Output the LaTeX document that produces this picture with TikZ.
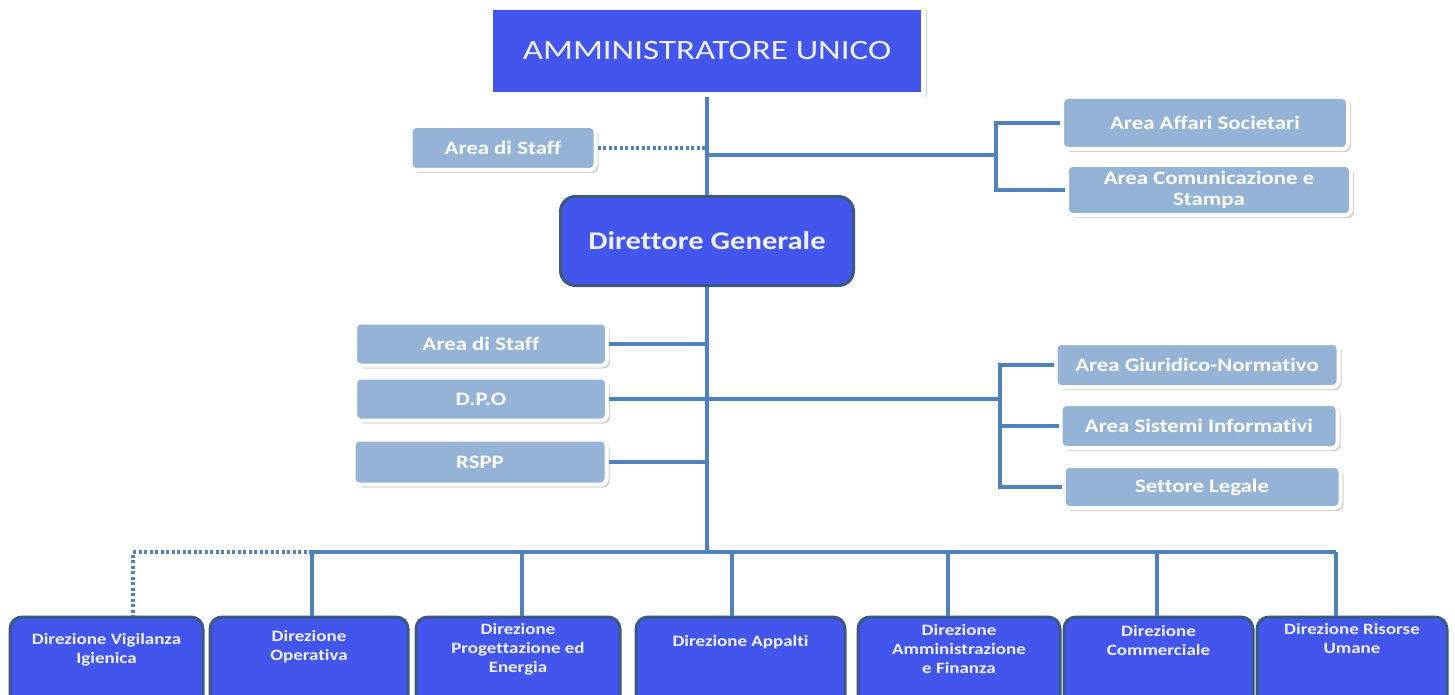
\documentclass[tikz,border=0pt]{standalone}
\usepackage{fontspec}
\setmainfont{Carlito}[FakeStretch=1.2,Ligatures=NoCommon]
\newfontfamily\aufont{Carlito}[FakeStretch=1.25,Ligatures=NoCommon]
\usetikzlibrary{shadows}
\definecolor{dblue}{RGB}{66,85,236}
\definecolor{dborder}{RGB}{58,88,130}
\definecolor{lblue}{RGB}{149,179,215}
\definecolor{conncol}{RGB}{79,129,189}
\definecolor{txt}{RGB}{238,240,246}
\begin{document}
\begin{tikzpicture}[x=1pt,y=-1pt,
  shd/.style={drop shadow={opacity=0.35,shadow xshift=3pt,shadow yshift=-3pt}},
  lbox/.style={shd,draw=white,line width=4pt,fill=lblue,rounded corners=6pt,
    text=white,font=\bfseries\fontsize{19}{21}\selectfont,align=center,inner sep=0pt},
  topbox/.style={shd,draw=white,line width=5pt,fill=dblue,inner sep=0pt,
    text=txt,font=\aufont\fontsize{28}{32}\selectfont},
  dgbox/.style={draw=dborder,line width=3pt,fill=dblue,rounded corners=15pt,inner sep=0pt,
    text=txt,font=\bfseries\fontsize{25.5}{28}\selectfont},
  dirbox/.style={draw=dborder,line width=3pt,fill=dblue,rounded corners=12pt,inner sep=0pt},
  dirtext/.style={text=txt,font=\bfseries\fontsize{15.8}{19}\selectfont,align=center,inner sep=0pt},
  conn/.style={draw=conncol,line width=4pt},
  dconn/.style={draw=conncol,line width=4pt,dash pattern=on 3pt off 2.5pt}
]
\useasboundingbox (0,0) rectangle (1455,695);
\clip (0,0) rectangle (1455,695);
\fill[white] (0,0) rectangle (1455,695);

% top
\node[topbox,minimum width=433,minimum height=87] (au) at (707,51) {AMMINISTRATORE UNICO};
\node[dgbox,minimum width=293,minimum height=89] (dg) at (707,241) {Direttore Generale};
\node[lbox,minimum width=185,minimum height=44] (as1) at (503,148) {Area di Staff};
\node[lbox,minimum width=286,minimum height=52] (aas) at (1205,123) {Area Affari Societari};
\node[lbox,minimum width=284,minimum height=50] (acs) at (1209,190) {Area Comunicazione e\\Stampa};

% middle
\node[lbox,minimum width=252,minimum height=43] (as2) at (481,344) {Area di Staff};
\node[lbox,minimum width=252,minimum height=43] (dpo) at (481,399) {D.P.O};
\node[lbox,minimum width=253,minimum height=45] (rspp) at (480,462) {RSPP};
\node[lbox,minimum width=283,minimum height=44] (agn) at (1197,365) {Area Giuridico-Normativo};
\node[lbox,minimum width=277,minimum height=44] (asi) at (1199,426) {Area Sistemi Informativi};
\node[lbox,minimum width=277,minimum height=42] (sl) at (1202,487) {Settore Legale};

% bottom boxes
\node[dirbox,minimum width=193,minimum height=104] (d1) at (106.5,669) {};
\node[dirbox,minimum width=198,minimum height=104] (d2) at (309,669) {};
\node[dirbox,minimum width=204,minimum height=104] (d3) at (518,669) {};
\node[dirbox,minimum width=209,minimum height=104] (d4) at (740.5,669) {};
\node[dirbox,minimum width=202,minimum height=104] (d5) at (959,669) {};
\node[dirbox,minimum width=189,minimum height=104] (d6) at (1158.5,669) {};
\node[dirbox,minimum width=190,minimum height=104] (d7) at (1352,669) {};
\node[dirtext] (t1) at (106.5,650) {Direzione Vigilanza\\Igienica};
\node[dirtext] (t2) at (309,647) {Direzione\\Operativa};
\node[dirtext] (t3) at (518,649) {Direzione\\Progettazione ed\\Energia};
\node[dirtext] (t4) at (740.5,642) {Direzione Appalti};
\node[dirtext] (t5) at (959,649) {Direzione\\Amministrazione\\e Finanza};
\node[dirtext] (t6) at (1158.5,641) {Direzione\\Commerciale};
\node[dirtext] (t7) at (1352,639) {Direzione Risorse\\Umane};

% junction coordinates
\coordinate (j1) at (707,155);
\coordinate (b1) at (996,155);
\coordinate (b2) at (1000,399);
\coordinate (bus) at (707,552);
\coordinate (bl) at (312,552);
\coordinate (bd) at (133,552);
\coordinate (s3) at (522,552);
\coordinate (s4) at (732,552);
\coordinate (s5) at (948,552);
\coordinate (s6) at (1157,552);
\coordinate (s7) at (1336,552);

% connectors top
\draw[conn] (au.south) -- (dg.north);
\draw[dconn] (as1.east) -- (as1.east -| j1);
\draw[conn] (j1) -- (b1);
\draw[conn] (aas.west) -| (b1) |- (acs.west);

% connectors middle
\draw[conn] (dg.south) -- (bus);
\draw[conn] (as2.east) -- (as2.east -| bus);
\draw[conn] (dpo.east) -- (b2);
\draw[conn] (rspp.east) -- (rspp.east -| bus);
\draw[conn] (agn.west) -| (b2) |- (sl.west);
\draw[conn] (asi.west) -- (asi.west -| b2);

% connectors bottom
\draw[conn] (bl) -- (s7);
\draw[dconn] (bl) -- (bd) -- (bd |- d1.north);
\draw[conn] (bl) -- (bl |- d2.north);
\draw[conn] (s3) -- (s3 |- d3.north);
\draw[conn] (s4) -- (s4 |- d4.north);
\draw[conn] (s5) -- (s5 |- d5.north);
\draw[conn] (s6) -- (s6 |- d6.north);
\draw[conn] (s7) -- (s7 |- d7.north);
\end{tikzpicture}
\end{document}
